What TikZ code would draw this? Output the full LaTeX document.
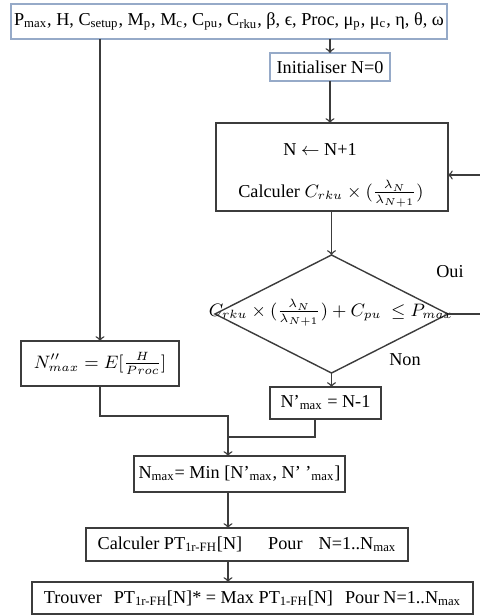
\documentclass[tikz,border=0pt]{standalone}
\usepackage{fontspec}
\setmainfont{Liberation Serif}
\usetikzlibrary{shapes.geometric}
\definecolor{boxblue}{RGB}{150,170,200}
\definecolor{linegray}{RGB}{60,60,60}
\begin{document}
\begin{tikzpicture}[x=0.5pt, y=-0.5pt, font=\fontsize{9.1}{11}\selectfont, >=to,
    box/.style={draw=linegray, line width=0.7pt, inner sep=0pt, outer sep=0pt},
    link/.style={draw=linegray, line width=0.7pt}]
    \def\u{0.5pt}
    \useasboundingbox (0,0) rectangle (480,615);
    \clip (0,0) rectangle (480,615);

    \node[box, draw=boxblue, minimum width=436*\u, minimum height=35*\u] (params) at (229,21.5)
        {P\textsubscript{max}, H, C\textsubscript{setup}, M\textsubscript{p}, M\textsubscript{c}, C\textsubscript{pu}, C\textsubscript{rku}, β, ϵ, Proc, μ\textsubscript{p}, μ\textsubscript{c}, η, θ, ω};
    \node[box, draw=boxblue, minimum width=120*\u, minimum height=28*\u] (init) at (330,67) {Initialiser N=0};
    \node[box, minimum width=232*\u, minimum height=88*\u] (iter) at (332,167) {};
    \node (inc) at (320,149) {N $\leftarrow$ N+1};
    \node (calcl) at (331,194) {Calculer $C_{rku}\times(\frac{\lambda_N}{\lambda_{N+1}})$};
    \node[box, diamond, minimum width=233*\u, minimum height=118*\u] (test) at (331.5,314) {};
    \node (cond) at (331,313) {$C_{rku}\times(\frac{\lambda_N}{\lambda_{N+1}})+C_{pu}\ \le P_{max}$};
    \node (oui) at (450,272) {Oui};
    \node (non) at (405,360) {Non};
    \node[box, minimum width=158*\u, minimum height=45*\u] (nsec) at (100,363.5) {$N''_{max}=E[\frac{H}{Proc}]$};
    \node[box, minimum width=111*\u, minimum height=32*\u] (nprim) at (325.5,403) {N’\textsubscript{max} = N-1};
    \node[box, minimum width=211*\u, minimum height=36*\u] (nmax) at (239.5,474)
        {N\textsubscript{max}= Min [N’\textsubscript{max}, N’ ’\textsubscript{max}]};
    \node[box, minimum width=322*\u, minimum height=33*\u] (calcpt) at (247,544.5)
        {Calculer PT\textsubscript{1r-FH}[N]\hspace{13pt}Pour\hspace{8pt}N=1..N\textsubscript{max}};
    \node[box, minimum width=441*\u, minimum height=32*\u] (best) at (252.5,598)
        {Trouver\hspace{6pt}PT\textsubscript{1r-FH}[N]* = Max PT\textsubscript{1-FH}[N]\hspace{6pt}Pour\hspace{2pt}N=1..N\textsubscript{max}};

    \coordinate (j1) at (228,416);
    \coordinate (join) at (228,437);
    \draw[link, ->] (params.south -| nsec.north) -- (nsec.north);
    \draw[link, ->] (params.south -| init.north) -- (init.north);
    \draw[link, ->] (init.south) -- (init.south |- iter.north);
    \draw[link, ->] (iter.south -| test.north) -- (test.north);
    \draw[link, ->] (test.south) -- (test.south |- nprim.north);
    \draw[link, ->] (test.east) -- (490,314) |- ([yshift=-4pt]iter.east);
    \draw[link] (nsec.south) |- (j1) -- (join);
    \draw[link] ([xshift=-5.25pt]nprim.south) |- (join);
    \draw[link, ->] (join) -- (join |- nmax.north);
    \draw[link, ->] (nmax.south -| join) -- (calcpt.north -| join);
    \draw[link, ->] (calcpt.south -| join) -- (best.north -| join);
\end{tikzpicture}
\end{document}
